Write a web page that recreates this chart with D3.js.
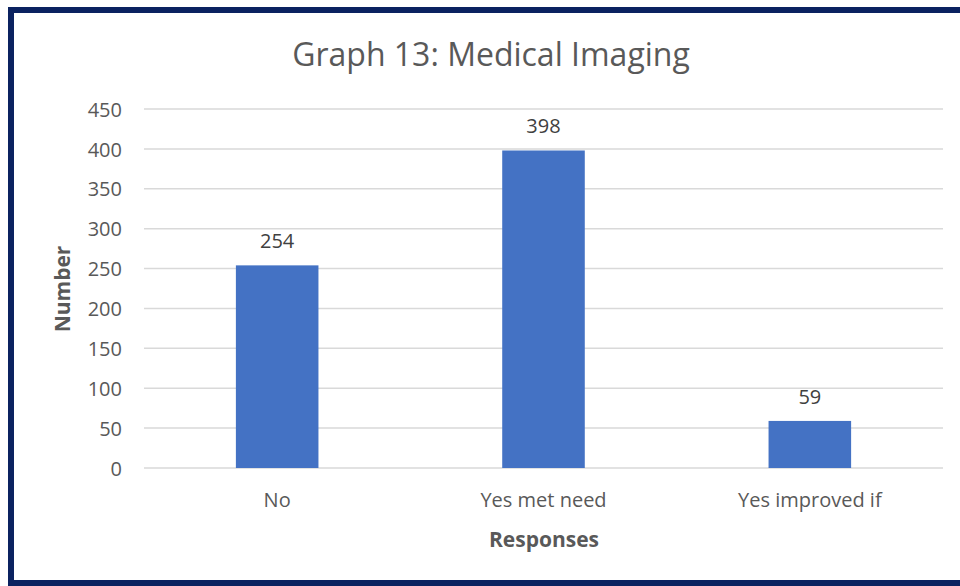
<!DOCTYPE html>
<html>
<head>
<meta charset="utf-8">
<script src="https://cdn.jsdelivr.net/npm/d3@7"></script>
<style>
  body { margin: 0; background: #fff; }
  svg text { font-family: "Open Sans", Lato, sans-serif; }
</style>
</head>
<body>
<div id="chart"></div>
<script>
// chart data
const categories = ["No", "Yes met need", "Yes improved if"];
const counts = [254, 398, 59];
const yTicks = [0, 50, 100, 150, 200, 250, 300, 350, 400, 450];
const titleText = "Graph 13: Medical Imaging";

const W = 960, H = 586;
const margin = { top: 109, right: 17, bottom: 118, left: 144 };
const width = W - margin.left - margin.right;
const height = H - margin.top - margin.bottom;

const svg = d3.select("#chart").append("svg")
  .attr("width", W)
  .attr("height", H);

// dark frame
svg.append("rect")
  .attr("x", 11).attr("y", 10)
  .attr("width", W).attr("height", H - 13)
  .attr("fill", "#fff")
  .attr("stroke", "#0b2260")
  .attr("stroke-width", 6);

const g = svg.append("g")
  .attr("transform", `translate(${margin.left},${margin.top})`);

const x = d3.scaleBand()
  .domain(categories)
  .range([0, width])
  .paddingInner(0.69)
  .paddingOuter(0.345);

const y = d3.scaleLinear()
  .domain([0, 450])
  .range([height, 0]);

// gridlines
g.append("g")
  .selectAll("line")
  .data(yTicks)
  .enter().append("line")
  .attr("x1", 0).attr("x2", width)
  .attr("y1", d => y(d)).attr("y2", d => y(d))
  .attr("stroke", "#d9d9d9")
  .attr("stroke-width", 1.5);

// y axis labels
const yAxis = g.append("g")
  .call(d3.axisLeft(y).tickValues(yTicks).tickSize(0).tickPadding(22));
yAxis.select(".domain").remove();
yAxis.selectAll("text")
  .attr("fill", "#595959")
  .attr("dy", "0.36em")
  .style("font-size", "20px");

// x axis labels
const xAxis = g.append("g")
  .attr("transform", `translate(0,${height})`)
  .call(d3.axisBottom(x).tickSize(0).tickPadding(25));
xAxis.select(".domain").remove();
xAxis.selectAll("text")
  .attr("fill", "#595959")
  .style("font-size", "20px");

// bars
g.selectAll(".bar")
  .data(counts)
  .enter().append("rect")
  .attr("class", "bar")
  .attr("x", (d, i) => x(categories[i]))
  .attr("y", d => y(d))
  .attr("width", x.bandwidth())
  .attr("height", d => height - y(d))
  .attr("fill", "#4472c4");

// value labels
g.selectAll(".val")
  .data(counts)
  .enter().append("text")
  .attr("class", "val")
  .attr("x", (d, i) => x(categories[i]) + x.bandwidth() / 2)
  .attr("y", d => y(d) - 17)
  .attr("text-anchor", "middle")
  .attr("fill", "#404040")
  .style("font-size", "20px")
  .text(d => d);

// title
svg.append("text")
  .attr("x", 491).attr("y", 66)
  .attr("text-anchor", "middle")
  .attr("fill", "#595959")
  .style("font-size", "32px")
  .text(titleText);

// axis titles
svg.append("text")
  .attr("x", 544).attr("y", 547)
  .attr("text-anchor", "middle")
  .attr("fill", "#595959")
  .style("font-size", "21px")
  .style("font-weight", "bold")
  .text("Responses");

svg.append("text")
  .attr("transform", "translate(70,289) rotate(-90)")
  .attr("text-anchor", "middle")
  .attr("fill", "#595959")
  .style("font-size", "21px")
  .style("font-weight", "bold")
  .text("Number");
</script>
</body>
</html>
